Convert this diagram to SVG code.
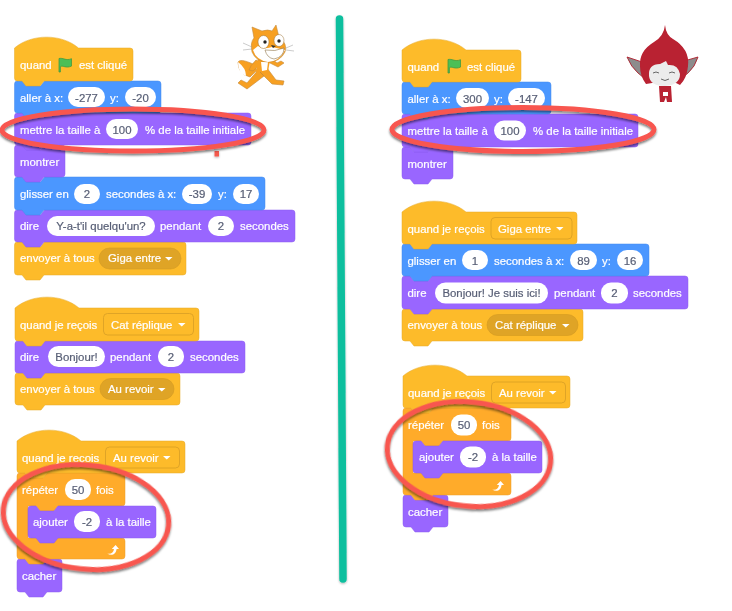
<svg xmlns="http://www.w3.org/2000/svg" width="732" height="611" viewBox="0 0 732 611">
<defs>
<filter id="soft" x="-2%" y="-2%" width="104%" height="104%"><feGaussianBlur stdDeviation="0.4"/></filter>
<filter id="shadow" x="-10%" y="-20%" width="120%" height="150%"><feDropShadow dx="0" dy="2" stdDeviation="1.2" flood-color="#000" flood-opacity="0.5"/></filter>
<filter id="shadow2" filterUnits="userSpaceOnUse" x="0" y="0" width="732" height="611"><feDropShadow dx="0" dy="1" stdDeviation="1" flood-color="#000" flood-opacity="0.3"/></filter>
<path id="flag" d="M1 1V14.500H2.400V9.200C5 7.400 7.500 11.200 13.500 8.600V1.200C8 3.600 5 0 1 1Z" fill="#4cbf56" stroke="#45993d" stroke-width="0.8"/>
<path id="arr" d="M0 0H7.500L3.750 3.600Z" fill="#fff"/>
<path id="loop" d="M0 8.500C4 9.500 6.500 7.500 7 4H4.800L8.600 0L12 4H9.600C9 9 5 11.500 0 8.500Z" fill="#fff"/>
</defs>
<style>
text{font-family:"Liberation Sans",Arial,sans-serif;font-size:11.4px;fill:#fff;stroke:#fff;stroke-width:.2}
.v{fill:#575e75;stroke:#575e75;text-anchor:middle}
.ev{fill:#fdbb2b;stroke:#e5a927;stroke-width:.5}
.mo{fill:#4c97ff;stroke:#4389ea;stroke-width:.5}
.lo{fill:#9966ff;stroke:#8a5cec;stroke-width:.5}
.co{fill:#ffab2b;stroke:#eb9c2a;stroke-width:.5}
.in{fill:#fff}
.dp{fill:#dfa427;stroke:#d39a22;stroke-width:.6}
.dr{fill:#fdbb2b;stroke:#dfa427;stroke-width:1}
.ring{fill:none;stroke:#f8574f;stroke-width:5;filter:url(#shadow)}
</style>
<line x1="339.500" y1="19" x2="343" y2="579" stroke="#0cbf9e" stroke-width="7.500" stroke-linecap="round" filter="url(#shadow2)"/>
<g filter="url(#soft)">
<g id="left-1">
<g id="l-envoyer"><path class="ev" d="M14.500 245q0-3 3-3h5l4 5h14l4-5H183q3 0 3 3V272q0 3-3 3H44l-4 5h-14l-4-5H17.500q-3 0-3-3Z"/><text x="20" y="262">envoyer à tous</text><rect class="dp" x="99" y="248" width="82" height="21" rx="10.500"/><text x="108" y="262">Giga entre</text><use href="#arr" x="165" y="257"/></g>
<g id="l-dire"><path class="lo" d="M14.500 213q0-3 3-3h5l4 5h14l4-5H292q3 0 3 3V239q0 3-3 3H44l-4 5h-14l-4-5H17.500q-3 0-3-3Z"/><text x="20" y="230">dire</text><rect class="in" x="47" y="216" width="108" height="20" rx="10"/><text class="v" x="101" y="230">Y-a-t'il quelqu'un?</text><text x="160" y="230">pendant</text><rect class="in" x="208" y="216" width="26" height="20" rx="10"/><text class="v" x="221" y="230">2</text><text x="240" y="230">secondes</text></g>
<g id="l-glisser"><path class="mo" d="M14.500 180q0-3 3-3h5l4 5h14l4-5H262q3 0 3 3V207q0 3-3 3H44l-4 5h-14l-4-5H17.500q-3 0-3-3Z"/><text x="20" y="198">glisser en</text><rect class="in" x="74" y="184" width="26" height="20" rx="10"/><text class="v" x="87" y="198">2</text><text x="106" y="198">secondes à x:</text><rect class="in" x="182" y="184" width="30" height="20" rx="10"/><text class="v" x="197" y="198">-39</text><text x="218" y="198">y:</text><rect class="in" x="233" y="184" width="26" height="20" rx="10"/><text class="v" x="246" y="198">17</text></g>
<g id="l-montrer"><path class="lo" d="M14.500 148q0-3 3-3h5l4 5h14l4-5H62q3 0 3 3V174q0 3-3 3H44l-4 5h-14l-4-5H17.500q-3 0-3-3Z"/><text x="20" y="166">montrer</text></g>
<g id="l-mettre"><path class="lo" d="M14.500 116q0-3 3-3h5l4 5h14l4-5H248q3 0 3 3V142q0 3-3 3H44l-4 5h-14l-4-5H17.500q-3 0-3-3Z"/><text x="20" y="134">mettre la taille à</text><rect class="in" x="106" y="119" width="32" height="20" rx="10"/><text class="v" x="122" y="134">100</text><text x="145" y="134">% de la taille initiale</text></g>
<g id="l-aller"><path class="mo" d="M14.500 84q0-3 3-3h5l4 5h14l4-5H158q3 0 3 3V110q0 3-3 3H44l-4 5h-14l-4-5H17.500q-3 0-3-3Z"/><text x="20" y="102">aller à x:</text><rect class="in" x="68" y="87" width="37" height="20" rx="10"/><text class="v" x="86.500" y="102">-277</text><text x="110" y="102">y:</text><rect class="in" x="125" y="87" width="31" height="20" rx="10"/><text class="v" x="140.500" y="102">-20</text></g>
<g id="l-hat"><path class="ev" d="M14.500 48c17-14.500 47-14.500 64 0H130q3 0 3 3V78q0 3-3 3H44l-4 5h-14l-4-5H17.500q-3 0-3-3Z"/><text x="20" y="69">quand</text><use href="#flag" x="58" y="57.500"/><text x="79" y="69">est cliqué</text></g>
</g>
<g id="left-2">
<g id="l2-envoyer"><path class="ev" d="M15 376q0-3 3-3h5l4 5h14l4-5H177q3 0 3 3V402q0 3-3 3H45l-4 5h-14l-4-5H18q-3 0-3-3Z"/><text x="20" y="393">envoyer à tous</text><rect class="dp" x="100" y="378.500" width="74" height="21" rx="10.500"/><text x="108" y="393">Au revoir</text><use href="#arr" x="158" y="388"/></g>
<g id="l2-dire"><path class="lo" d="M15 344q0-3 3-3h5l4 5h14l4-5H242q3 0 3 3V370q0 3-3 3H45l-4 5h-14l-4-5H18q-3 0-3-3Z"/><text x="20" y="361">dire</text><rect class="in" x="48" y="346" width="57" height="21" rx="10.500"/><text class="v" x="76.500" y="361">Bonjour!</text><text x="110" y="361">pendant</text><rect class="in" x="158" y="346" width="26" height="21" rx="10"/><text class="v" x="171" y="361">2</text><text x="190" y="361">secondes</text></g>
<g id="l2-hat"><path class="ev" d="M15 308c17-14.500 47-14.500 64 0H196q3 0 3 3V338q0 3-3 3H45l-4 5h-14l-4-5H18q-3 0-3-3Z"/><text x="20" y="329">quand je reçois</text><rect class="dr" x="103.500" y="313.500" width="90" height="21.500" rx="4"/><text x="111" y="329">Cat réplique</text><use href="#arr" x="178" y="323"/></g>
</g>
<g id="left-3">
<g id="l3-cacher"><path class="lo" d="M17 562q0-3 3-3h5l4 5h14l4-5H59q3 0 3 3V589q0 3-3 3H47l-4 5h-14l-4-5H20q-3 0-3-3Z"/><text x="22" y="580">cacher</text></g>
<g id="l3-repeter"><path class="co" d="M17 476q0-3 3-3h5l4 5h14l4-5H122q3 0 3 3V503q0 3-3 3H58l-4 5h-14l-4-5H28V538H122q3 0 3 3V556q0 3-3 3H47l-4 5h-14l-4-5H20q-3 0-3-3Z"/><text x="22" y="494">répéter</text><rect class="in" x="65" y="479" width="26" height="21" rx="10"/><text class="v" x="78" y="494">50</text><text x="96" y="494">fois</text><use href="#loop" x="107" y="545"/></g>
<g id="l3-ajouter"><path class="lo" d="M28 509q0-3 3-3h5l4 5h14l4-5H153q3 0 3 3V535q0 3-3 3H58l-4 5h-14l-4-5H31q-3 0-3-3Z"/><text x="33" y="526">ajouter</text><rect class="in" x="74" y="511" width="26" height="21" rx="10"/><text class="v" x="87" y="526">-2</text><text x="106" y="526">à la taille</text></g>
<g id="l3-hat"><path class="ev" d="M17 441c17-14.500 47-14.500 64 0H182q3 0 3 3V470q0 3-3 3H47l-4 5h-14l-4-5H20q-3 0-3-3Z"/><text x="22" y="462">quand je reçois</text><rect class="dr" x="105.500" y="447" width="74" height="21" rx="4"/><text x="113" y="462">Au revoir</text><use href="#arr" x="163" y="456"/></g>
</g>
<g id="right-1">
<g id="r-montrer"><path class="lo" d="M402 150q0-3 3-3h5l4 5h14l4-5H450q3 0 3 3V176q0 3-3 3H432l-4 5h-14l-4-5H405q-3 0-3-3Z"/><text x="407.500" y="168">montrer</text></g>
<g id="r-mettre"><path class="lo" d="M402 117q0-3 3-3h5l4 5h14l4-5H635q3 0 3 3V144q0 3-3 3H432l-4 5h-14l-4-5H405q-3 0-3-3Z"/><text x="407.500" y="135">mettre la taille à</text><rect class="in" x="494" y="120.500" width="32" height="20" rx="10"/><text class="v" x="510" y="135">100</text><text x="533" y="135">% de la taille initiale</text></g>
<g id="r-aller"><path class="mo" d="M402 85q0-3 3-3h5l4 5h14l4-5H548q3 0 3 3V111q0 3-3 3H432l-4 5h-14l-4-5H405q-3 0-3-3Z"/><text x="407.500" y="103">aller à x:</text><rect class="in" x="456" y="88" width="33" height="20" rx="10"/><text class="v" x="472.500" y="103">300</text><text x="494" y="103">y:</text><rect class="in" x="508" y="88" width="37" height="20" rx="10"/><text class="v" x="526.500" y="103">-147</text></g>
<g id="r-hat"><path class="ev" d="M402 50c17-14.500 47-14.500 64 0H518q3 0 3 3V79q0 3-3 3H432l-4 5h-14l-4-5H405q-3 0-3-3Z"/><text x="407.500" y="71">quand</text><use href="#flag" x="447" y="58.500"/><text x="467" y="71">est cliqué</text></g>
</g>
<g id="right-2">
<g id="r2-envoyer"><path class="ev" d="M402 312q0-3 3-3h5l4 5h14l4-5H580q3 0 3 3V338q0 3-3 3H432l-4 5h-14l-4-5H405q-3 0-3-3Z"/><text x="407.500" y="329">envoyer à tous</text><rect class="dp" x="487" y="314.500" width="91" height="21" rx="10.500"/><text x="495" y="329">Cat réplique</text><use href="#arr" x="562" y="324"/></g>
<g id="r2-dire"><path class="lo" d="M402 279q0-3 3-3h5l4 5h14l4-5H685q3 0 3 3V306q0 3-3 3H432l-4 5h-14l-4-5H405q-3 0-3-3Z"/><text x="407.500" y="297">dire</text><rect class="in" x="435" y="282.500" width="113" height="21" rx="10.500"/><text class="v" x="491.500" y="297">Bonjour! Je suis ici!</text><text x="554" y="297">pendant</text><rect class="in" x="601" y="282.500" width="27" height="21" rx="10"/><text class="v" x="614.500" y="297">2</text><text x="633" y="297">secondes</text></g>
<g id="r2-glisser"><path class="mo" d="M402 247q0-3 3-3h5l4 5h14l4-5H646q3 0 3 3V273q0 3-3 3H432l-4 5h-14l-4-5H405q-3 0-3-3Z"/><text x="407.500" y="265">glisser en</text><rect class="in" x="462" y="250" width="26" height="20" rx="10"/><text class="v" x="475" y="265">1</text><text x="494" y="265">secondes à x:</text><rect class="in" x="570" y="250" width="27" height="20" rx="10"/><text class="v" x="583.500" y="265">89</text><text x="602" y="265">y:</text><rect class="in" x="617" y="250" width="26" height="20" rx="10"/><text class="v" x="630" y="265">16</text></g>
<g id="r2-hat"><path class="ev" d="M402 212c17-14.500 47-14.500 64 0H574q3 0 3 3V241q0 3-3 3H432l-4 5h-14l-4-5H405q-3 0-3-3Z"/><text x="407.500" y="233">quand je reçois</text><rect class="dr" x="491" y="217.500" width="81" height="21.500" rx="4"/><text x="498" y="233">Giga entre</text><use href="#arr" x="556" y="227"/></g>
</g>
<g id="right-3">
<g id="r3-cacher"><path class="lo" d="M403 498q0-3 3-3h5l4 5h14l4-5H445q3 0 3 3V524q0 3-3 3H433l-4 5h-14l-4-5H406q-3 0-3-3Z"/><text x="408" y="516">cacher</text></g>
<g id="r3-repeter"><path class="co" d="M403 411q0-3 3-3h5l4 5h14l4-5H508q3 0 3 3V438q0 3-3 3H443l-4 5h-14l-4-5H413V473H508q3 0 3 3V492q0 3-3 3H433l-4 5h-14l-4-5H406q-3 0-3-3Z"/><text x="408" y="429">répéter</text><rect class="in" x="451" y="414.500" width="26" height="21" rx="10"/><text class="v" x="464" y="429">50</text><text x="482" y="429">fois</text><use href="#loop" x="492" y="481"/></g>
<g id="r3-ajouter"><path class="lo" d="M413 444q0-3 3-3h5l4 5h14l4-5H539q3 0 3 3V470q0 3-3 3H443l-4 5h-14l-4-5H416q-3 0-3-3Z"/><text x="419" y="461">ajouter</text><rect class="in" x="460" y="446.500" width="26" height="21" rx="10"/><text class="v" x="473" y="461">-2</text><text x="492" y="461">à la taille</text></g>
<g id="r3-hat"><path class="ev" d="M403 376c17-14.500 47-14.500 64 0H567q3 0 3 3V405q0 3-3 3H433l-4 5h-14l-4-5H406q-3 0-3-3Z"/><text x="408" y="397">quand je reçois</text><rect class="dr" x="491.500" y="382" width="74" height="21" rx="4"/><text x="499" y="397">Au revoir</text><use href="#arr" x="549" y="391"/></g>
</g>
<g id="cat">
<path d="M253 64Q240 58 238 62Q238 74 250 77L257 70Z" fill="#f7a023" stroke="#c58a3a" stroke-width=".6"/>
<path d="M238 62Q238 74 246 76Q246 68 238 62Z" fill="#fff"/>
<path d="M258 70L247 83L241 80L238 83L247 89L264 76ZM260 72L272 84L283 85L284 81L276 80L267 68Z" fill="#f7a023" stroke="#c58a3a" stroke-width=".6"/>
<path d="M256 60Q250 66 249 70L253 71L262 63ZM268 62L278 67L284 63L281 61L277 63L271 58Z" fill="#f7a023" stroke="#c58a3a" stroke-width=".6"/>
<path d="M258 58L256 72L268 72L270 60Z" fill="#f7a023"/><path d="M261 62L262 71L267 70L268 62Z" fill="#fff"/>
<path d="M252 27L262 31Q268 29 272 31L276 25L279 37Q288 44 285 52Q280 62 268 62Q256 62 252 52Q250 42 254 38Z" fill="#f7a023" stroke="#c58a3a" stroke-width=".6"/>
<path d="M253 50Q256 60 268 62Q280 61 285 50L272 47Q262 50 258 46Z" fill="#fff"/>
<ellipse cx="263.500" cy="42" rx="5.500" ry="6.500" fill="#fff" stroke="#9a7035" stroke-width=".5"/><ellipse cx="279" cy="40.500" rx="5" ry="6" fill="#fff" stroke="#9a7035" stroke-width=".5"/>
<circle cx="265" cy="42" r="1.700" fill="#222"/><circle cx="279" cy="41" r="1.700" fill="#222"/>
<path d="M271 45L276 46L273 48Z" fill="#333"/>
<path d="M265 50Q275 52 284 48Q284 57 274 59Q267 58 265 50Z" fill="#fff" stroke="#8f7448" stroke-width=".6"/>
<path d="M243 43L252 47M243 50L252 49M293 45L286 48M294 51L286 50" stroke="#999" stroke-width=".5" fill="none"/>
</g>
<g id="giga">
<path d="M627 57L642 62L644 78L638 73Q631 67 627 57ZM698 57L684 61L682 78L688 73Q695 67 698 57Z" fill="#8c8c8c" stroke="#b01f2d" stroke-width=".9"/>
<path d="M665 25Q666 35 673 39Q690 49 688 66Q687 78 680 85L676 83H652L646 84Q640 76 640 66Q639 51 654 42Q664 36 665 25Z" fill="#b92030"/>
<path d="M649 76Q648 64 660 64L666 61L668 65Q678 64 680 74Q680 85 665 86Q650 86 649 76Z" fill="#ececec"/>
<path d="M653 73Q656 71 659 73M669 73Q672 71 675 73M661 79Q665 82 669 79" fill="none" stroke="#444" stroke-width=".8"/>
<path d="M659 86H671L672 102H667L666 97L664 102H660Z" fill="#b92030"/><path d="M663 92H668V96H663Z" fill="#fff"/>
</g>
</g>
<rect x="214.500" y="151" width="4.500" height="5.500" fill="#f45a4e" filter="url(#shadow2)"/>
<ellipse class="ring" cx="133" cy="130" rx="131" ry="21"/>
<ellipse class="ring" cx="523" cy="129.500" rx="131" ry="22"/>
<ellipse class="ring" cx="86" cy="517" rx="83" ry="52" transform="rotate(6 86 517)"/>
<ellipse class="ring" cx="469" cy="454" rx="82" ry="52" transform="rotate(6 469 454)"/>
</svg>
